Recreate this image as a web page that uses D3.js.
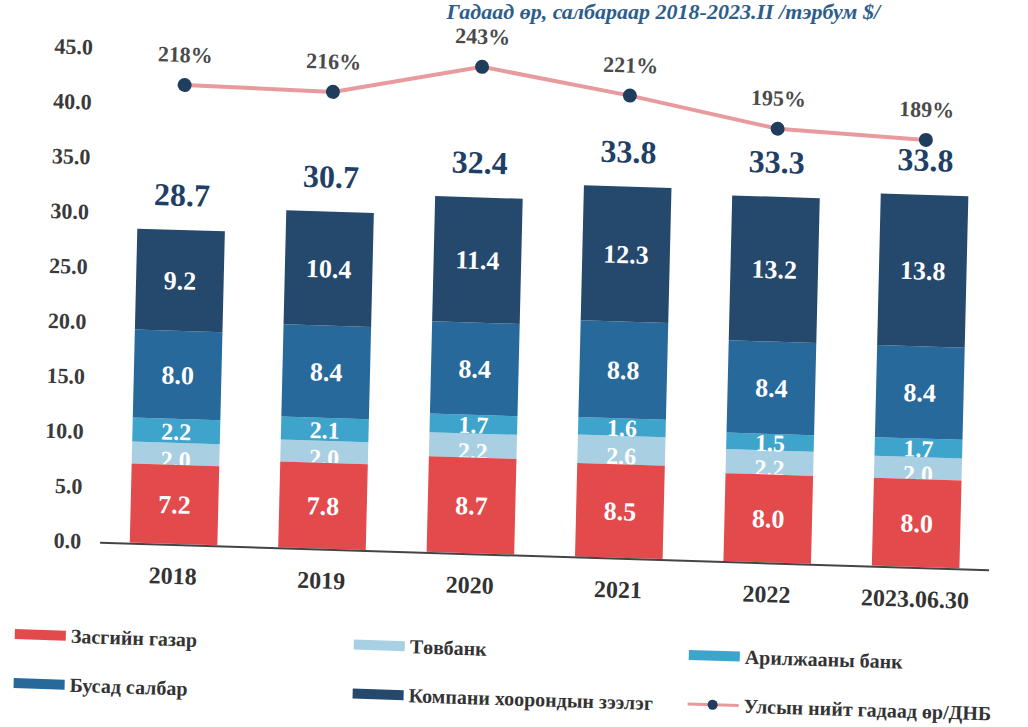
<!DOCTYPE html>
<html>
<head>
<meta charset="utf-8">
<script src="https://cdn.jsdelivr.net/npm/d3@7"></script>
<style>
  body { margin: 0; background: #fff; }
  svg { display: block; }
  text { font-family: "Liberation Serif", "DejaVu Serif", serif; font-weight: bold; }
</style>
</head>
<body>
<div id="chart"></div>
<script>
const categories = ["2018", "2019", "2020", "2021", "2022", "2023.06.30"];
const govt = [7.2, 7.8, 8.7, 8.5, 8.0, 8.0];
const centralBank = [2.0, 2.0, 2.2, 2.6, 2.2, 2.0];
const commercialBanks = [2.2, 2.1, 1.7, 1.6, 1.5, 1.7];
const otherSectors = [8.0, 8.4, 8.4, 8.8, 8.4, 8.4];
const intercompany = [9.2, 10.4, 11.4, 12.3, 13.2, 13.8];
const totals = [28.7, 30.7, 32.4, 33.8, 33.3, 33.8];
const debtToGdp = [218, 216, 243, 221, 195, 189];

const seriesNames = ["Засгийн газар", "Төвбанк", "Арилжааны банк", "Бусад салбар", "Компани хоорондын зээлэг"];
const lineName = "Улсын нийт гадаад өр/ДНБ";
const colors = ["#e34a4c", "#a9cfe2", "#3fa4cc", "#28699b", "#24496d"];

const width = 1028, height = 727;

const rows = categories.map((c, i) => ({
    cat: c, s0: govt[i], s1: centralBank[i], s2: commercialBanks[i], s3: otherSectors[i], s4: intercompany[i]
}));
const keys = ["s0", "s1", "s2", "s3", "s4"];
const stacked = d3.stack().keys(keys)(rows);

const x = d3.scaleBand().domain(categories).range([112, 1001]).paddingInner(0.41).paddingOuter(0.2);
const y = d3.scaleLinear().domain([0, 45]).range([541, 47]);
const y2 = d3.scaleLinear().domain([-200, 250]).range([541, 47]);

const svg = d3.select("#chart").append("svg")
    .attr("width", width)
    .attr("height", height);

// title (only its lower part shows in the scan)
svg.append("text")
    .attr("x", 880).attr("y", 19)
    .attr("text-anchor", "end")
    .style("font-size", "22px")
    .style("font-style", "italic")
    .style("fill", "#2d5d8a")
    .text("Гадаад өр, салбараар 2018-2023.II /тэрбум $/");

// the scanned page is slightly tilted
const g = svg.append("g")
    .attr("transform", "matrix(1,0.031,-0.024,1,1.08,-2.8)");

// y axis
const yAxis = g.append("g")
    .attr("transform", "translate(97,0)")
    .call(d3.axisLeft(y).tickValues(d3.range(0, 46, 5)).tickSize(0).tickPadding(4).tickFormat(d3.format(".1f")));
yAxis.select(".domain").remove();
yAxis.selectAll("text")
    .style("font-size", "22px")
    .style("font-family", "Liberation Serif, serif")
    .style("font-weight", "bold")
    .style("fill", "#3a3a3a");

const layer = (k) => g.append("g").selectAll("rect")
    .data(stacked[k])
    .enter()
    .append("rect")
    .attr("x", (d) => x(d.data.cat))
    .attr("width", x.bandwidth())
    .attr("y", (d) => y(d[1]))
    .attr("height", (d) => y(d[0]) - y(d[1]))
    .attr("fill", colors[k]);

const labels = (k, dy) => g.append("g").selectAll("text")
    .data(stacked[k])
    .enter()
    .append("text")
    .attr("x", (d) => x(d.data.cat) + x.bandwidth() / 2)
    .attr("y", (d) => (y(d[0]) + y(d[1])) / 2 + dy)
    .attr("text-anchor", "middle")
    .style("font-size", k === 1 || k === 2 ? "24px" : "26px")
    .style("fill", "#fff")
    .text((d) => (d[1] - d[0]).toFixed(1));

layer(1); layer(2); layer(3); layer(4);
// central bank labels sit low and get partly covered by the red bar
labels(1, 14);
layer(0);
labels(0, 9); labels(2, 9); labels(3, 9); labels(4, 9);

// axis baseline
g.append("line")
    .attr("x1", x.range()[0]).attr("x2", x.range()[1])
    .attr("y1", y(0) + 1).attr("y2", y(0) + 1)
    .attr("stroke", "#444").attr("stroke-width", 2);

// category labels
g.append("g").selectAll("text")
    .data(categories)
    .enter()
    .append("text")
    .attr("x", (d) => x(d) + x.bandwidth() / 2)
    .attr("y", 581)
    .attr("text-anchor", "middle")
    .style("font-size", "24px")
    .style("fill", "#333")
    .text((d) => d);

// totals
g.append("g").selectAll("text")
    .data(totals)
    .enter()
    .append("text")
    .attr("x", (d, i) => x(categories[i]) + x.bandwidth() / 2)
    .attr("y", (d, i) => y(stacked[4][i][1]) - 24)
    .attr("text-anchor", "middle")
    .style("font-size", "32px")
    .style("fill", "#1f3f66")
    .text((d) => d.toFixed(1));

// debt / GDP line
const cx = (i) => x(categories[i]) + x.bandwidth() / 2;
g.append("path")
    .datum(debtToGdp)
    .attr("d", d3.line().x((d, i) => cx(i)).y((d) => y2(d)))
    .attr("fill", "none")
    .attr("stroke", "#e99a9c")
    .attr("stroke-width", 4);

g.append("g").selectAll("circle")
    .data(debtToGdp)
    .enter()
    .append("circle")
    .attr("cx", (d, i) => cx(i))
    .attr("cy", (d) => y2(d))
    .attr("r", 7)
    .attr("fill", "#1f3d5c");

g.append("g").selectAll("text")
    .data(debtToGdp)
    .enter()
    .append("text")
    .attr("x", (d, i) => cx(i))
    .attr("y", (d) => y2(d) - 23)
    .attr("text-anchor", "middle")
    .style("font-size", "22px")
    .style("fill", "#4a4a4a")
    .text((d) => d + "%");

// legend
const legendItems = [
    { name: seriesNames[0], color: colors[0], col: 0, row: 0 },
    { name: seriesNames[1], color: colors[1], col: 1, row: 0 },
    { name: seriesNames[2], color: colors[2], col: 2, row: 0 },
    { name: seriesNames[3], color: colors[3], col: 0, row: 1 },
    { name: seriesNames[4], color: colors[4], col: 1, row: 1 },
    { name: lineName, color: null, col: 2, row: 1 }
];
const colX = [29, 368, 703];
const rowY = [636, 685];

const leg = g.append("g").selectAll("g")
    .data(legendItems)
    .enter()
    .append("g")
    .attr("transform", (d) => `translate(${colX[d.col]},${rowY[d.row]})`);

leg.filter((d) => d.color)
    .append("rect")
    .attr("x", 0).attr("y", -5)
    .attr("width", 51).attr("height", 10)
    .attr("fill", (d) => d.color);

const lineLeg = leg.filter((d) => !d.color);
lineLeg.append("line")
    .attr("x1", 0).attr("x2", 51)
    .attr("stroke", "#e99a9c").attr("stroke-width", 3);
lineLeg.append("circle")
    .attr("cx", 25).attr("r", 5).attr("fill", "#1f3d5c");

leg.append("text")
    .attr("x", 56).attr("y", 7)
    .style("font-size", "20px")
    .style("fill", "#333")
    .text((d) => d.name);
</script>
</body>
</html>
